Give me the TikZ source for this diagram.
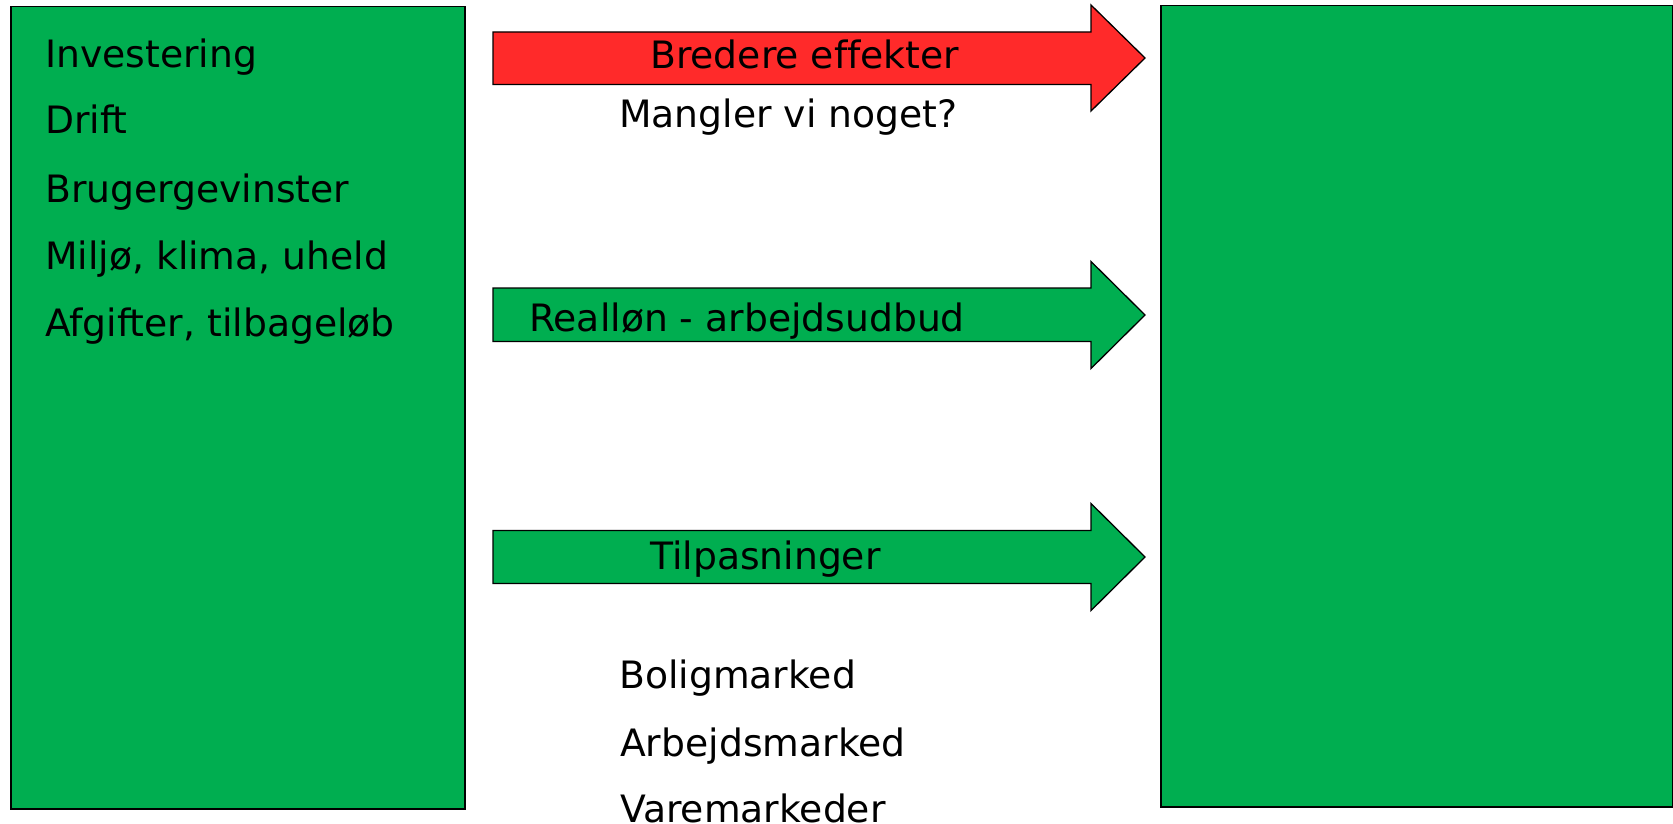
\documentclass[tikz,border=0pt]{standalone}
\usepackage{fontspec}
\setmainfont[Ligatures=NoCommon]{DejaVu Sans}
\definecolor{boxgreen}{HTML}{00AE50}
\definecolor{arrred}{HTML}{FF2A2A}
\tikzset{
  bigbox/.style={draw=black, line width=1.5pt, fill=boxgreen, inner sep=0pt, anchor=north west},
  blockarrow/.style={draw=black, line width=1.3pt, line join=miter},
  txt/.style={anchor=base west, inner sep=0pt, font=\fontsize{37.7}{44}\selectfont}
}
\begin{document}
\begin{tikzpicture}[x=1pt,y=-1pt]
\useasboundingbox (0,0) rectangle (1673,824);
% boxes
\node[bigbox, minimum width=454pt, minimum height=802pt] (left) at (10,6) {};
\node[bigbox, minimum width=512pt, minimum height=801pt] (right) at (1160,5) {};
% left list
\node[txt] (t1) at (45,68) {Investering};
\node[txt] (t2) at (45,134) {Drift};
\node[txt] (t3) at (45,202) {Brugergevinster};
\node[txt] (t4) at (45,269) {Miljø, klima, uheld};
\node[txt] (t5) at (45,336) {Afgifter, tilbageløb};
% arrows
\draw[blockarrow, fill=arrred] (493,32) -- (1091,32) -- (1091,5) -- (1145,58) -- (1091,111) -- (1091,84.5) -- (493,84.5) -- cycle;
\draw[blockarrow, fill=boxgreen] (493,288) -- (1091,288) -- (1091,261.5) -- (1145,315) -- (1091,368.5) -- (1091,341.5) -- (493,341.5) -- cycle;
\draw[blockarrow, fill=boxgreen] (493,530.5) -- (1091,530.5) -- (1091,503.5) -- (1145,557) -- (1091,610.5) -- (1091,583.5) -- (493,583.5) -- cycle;
% arrow labels
\node[txt] (a1) at (650,69) {Bredere effekter};
\node[txt] (m1) at (619,128) {Mangler vi noget?};
\node[txt] (a2) at (529,331) {Realløn - arbejdsudbud};
\node[txt] (a3) at (650,569) {Tilpasninger};
\node[txt] (b1) at (619,688) {Boligmarked};
\node[txt] (b2) at (620,756) {Arbejdsmarked};
\node[txt] (b3) at (620,822) {Varemarkeder};
\end{tikzpicture}
\end{document}
